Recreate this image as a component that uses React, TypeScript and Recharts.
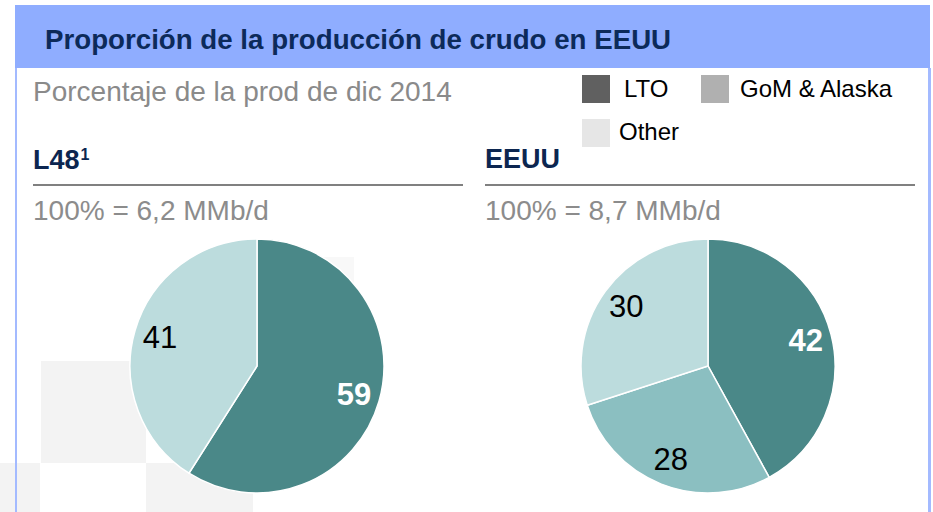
import React from "react";
import { PieChart, Pie, Cell } from "recharts";

const title = "Proporción de la producción de crudo en EEUU";
const subtitle = "Porcentaje de la prod de dic 2014";
const legendNames = ["LTO", "GoM & Alaska", "Other"];
const legendColors = ["#606060", "#b0b0b0", "#e6e6e6"];

const l48Header = "L48";
const l48Total = "100% = 6,2 MMb/d";
const l48Names = ["LTO", "Other"];
const l48Values = [59, 41];
const l48Colors = ["#4a8888", "#bcdcdd"];
const l48LabelColors = ["#ffffff", "#000000"];

const usHeader = "EEUU";
const usTotal = "100% = 8,7 MMb/d";
const usNames = ["LTO", "GoM & Alaska", "Other"];
const usValues = [42, 28, 30];
const usColors = ["#4a8888", "#8bbfc1", "#bcdcdd"];
const usLabelColors = ["#ffffff", "#000000", "#000000"];

const l48Data = l48Names.map((name, i) => ({ name, value: l48Values[i] }));
const usData = usNames.map((name, i) => ({ name, value: usValues[i] }));

const RAD = Math.PI / 180;
const FONT = "'Liberation Sans', Arial, Helvetica, sans-serif";

function makeLabel(colors: string[]) {
  return (props: any) => {
    const { cx, cy, midAngle, outerRadius, value, index } = props;
    const r = outerRadius * 0.795;
    const x = cx + r * Math.cos(-midAngle * RAD);
    const y = cy + r * Math.sin(-midAngle * RAD);
    const white = colors[index] === "#ffffff";
    return (
      <text
        x={x}
        y={y}
        fill={colors[index]}
        textAnchor="middle"
        dominantBaseline="central"
        fontFamily={FONT}
        fontSize={31}
        fontWeight={white ? 700 : 400}
      >
        {value}
      </text>
    );
  };
}

export default function App() {
  return (
    <div
      style={{
        position: "absolute",
        left: 0,
        top: 0,
        width: 933,
        height: 512,
        background: "#ffffff",
        overflow: "hidden",
      }}
    >
      <svg
        width={933}
        height={512}
        style={{ position: "absolute", left: 0, top: 0 }}
        fontFamily={FONT}
      >
        {/* faint watermark squares */}
        <rect x={41} y={361} width={105} height={102} fill="#f3f3f3" />
        <rect x={0} y={463} width={40} height={49} fill="#f3f3f3" />
        <rect x={146} y={463} width={107} height={49} fill="#f3f3f3" />
        <rect x={253} y={257} width={101} height={106} fill="#f8f8f8" />
        {/* frame */}
        <rect x={15} y={5} width={915} height={63} fill="#8fadff" />
        <rect x={15} y={68} width={2} height={444} fill="#a3baff" />
        <rect x={928} y={68} width={3} height={444} fill="#a3baff" />
        <text x={45} y={49} fontSize={27.7} fontWeight={700} fill="#0c2a5a">
          {title}
        </text>
        <text x={33} y={101} fontSize={28} fill="#8a8a8a">
          {subtitle}
        </text>
        {/* legend */}
        <rect x={582} y={75} width={28} height={28} fill={legendColors[0]} />
        <text x={624} y={97} fontSize={24} fill="#000">
          {legendNames[0]}
        </text>
        <rect x={701} y={75} width={28} height={28} fill={legendColors[1]} />
        <text x={740} y={97} fontSize={24} fill="#000">
          {legendNames[1]}
        </text>
        <rect x={582} y={119} width={28} height={28} fill={legendColors[2]} />
        <text x={619} y={140} fontSize={24} fill="#000">
          {legendNames[2]}
        </text>
        {/* section headers */}
        <text x={33} y={169} fontSize={27} fontWeight={700} fill="#0c2650">
          {l48Header}
          <tspan fontSize={16} fontWeight={700} dx={1} dy={-9}>1</tspan>
        </text>
        <rect x={33} y={184} width={430} height={2} fill="#808080" />
        <text x={33} y={220} fontSize={28} fill="#8c8c8c">
          {l48Total}
        </text>
        <text x={485} y={168} fontSize={27} fontWeight={700} fill="#0c2650">
          {usHeader}
        </text>
        <rect x={485} y={184} width={430} height={2} fill="#808080" />
        <text x={485} y={220} fontSize={28} fill="#8c8c8c">
          {usTotal}
        </text>
      </svg>
      <div style={{ position: "absolute", left: 0, top: 0 }}>
        <PieChart width={933} height={512} margin={{ top: 0, right: 0, bottom: 0, left: 0 }}>
          <Pie
            data={l48Data}
            dataKey="value"
            nameKey="name"
            cx={257}
            cy={366}
            outerRadius={127}
            startAngle={90}
            endAngle={-270}
            stroke="#ffffff"
            strokeWidth={1.5}
            labelLine={false}
            label={makeLabel(l48LabelColors)}
            isAnimationActive={false}
          >
            {l48Data.map((d, i) => (
              <Cell key={d.name} fill={l48Colors[i]} />
            ))}
          </Pie>
          <Pie
            data={usData}
            dataKey="value"
            nameKey="name"
            cx={708}
            cy={366}
            outerRadius={127}
            startAngle={90}
            endAngle={-270}
            stroke="#ffffff"
            strokeWidth={1.5}
            labelLine={false}
            label={makeLabel(usLabelColors)}
            isAnimationActive={false}
          >
            {usData.map((d, i) => (
              <Cell key={d.name} fill={usColors[i]} />
            ))}
          </Pie>
        </PieChart>
      </div>
    </div>
  );
}
